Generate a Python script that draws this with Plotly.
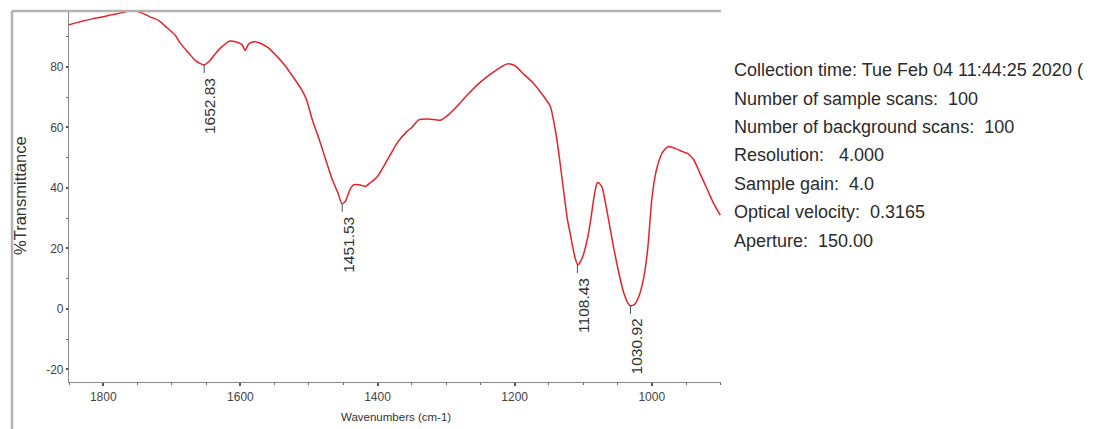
import plotly.graph_objects as go

# ---- data ----
wavenumber = [1850, 1840, 1830, 1820, 1810, 1800, 1790, 1780, 1766, 1755, 1745, 1732, 1720, 1707,
              1695, 1688, 1675, 1665, 1653, 1645, 1638, 1628, 1615, 1605, 1598, 1593, 1588, 1582,
              1575, 1560, 1547, 1535, 1524, 1512, 1504, 1495, 1485, 1475, 1466, 1458, 1452, 1447,
              1440, 1435, 1425, 1418, 1410, 1400, 1385, 1371, 1357, 1350, 1340, 1325, 1308, 1295,
              1284, 1268, 1250, 1230, 1211, 1200, 1187, 1172, 1158, 1148, 1143, 1138, 1133, 1128,
              1123, 1119, 1113, 1108, 1102, 1094, 1088, 1085, 1080, 1078, 1073, 1070, 1065, 1057,
              1050, 1041, 1035, 1031, 1025, 1019, 1012, 1006, 1000, 995, 992, 985, 976, 965, 955,
              948, 939, 930, 919, 910, 900]
transmittance = [94.0, 94.6, 95.2, 95.7, 96.2, 96.6, 97.2, 97.6, 98.4, 98.6, 98.0, 96.6, 95.5, 93.0,
                 90.5, 88.0, 84.5, 82.0, 80.7, 82.0, 84.0, 86.5, 88.6, 88.2, 87.5, 85.5, 87.6, 88.3,
                 88.2, 86.5, 83.6, 80.5, 77.0, 73.0, 69.4, 62.5, 56.0, 49.0, 42.8, 38.5, 34.8, 35.5,
                 39.5, 41.0, 41.0, 40.5, 41.8, 43.8, 49.5, 55.0, 58.7, 60.0, 62.5, 62.8, 62.4, 64.5,
                 67.0, 71.0, 75.0, 78.5, 81.0, 80.5, 77.7, 74.5, 70.4, 67.0, 62.0, 55.5, 47.0, 38.0,
                 29.5, 25.0, 18.0, 14.5, 16.5, 23.0, 31.0, 36.0, 41.5, 41.8, 40.5, 38.0, 32.0, 22.0,
                 14.0, 5.4, 2.0, 1.0, 1.5, 4.0, 10.0, 19.6, 36.0, 44.0, 47.0, 51.5, 53.7, 53.0, 52.0,
                 51.4, 49.4, 45.0, 39.5, 35.0, 31.0]

peak_wn = [1652.83, 1451.53, 1108.43, 1030.92]
peak_t = [80.7, 34.8, 14.5, 1.0]
peak_labels = ["1652.83", "1451.53", "1108.43", "1030.92"]

x_ticks = [1800, 1600, 1400, 1200, 1000]
y_ticks = [80, 60, 40, 20, 0, -20]

info_lines = [
    "Collection time: Tue Feb 04 11:44:25 2020 (",
    "Number of sample scans:  100",
    "Number of background scans:  100",
    "Resolution:   4.000",
    "Sample gain:  4.0",
    "Optical velocity:  0.3165",
    "Aperture:  150.00",
]

# the page body adds an 8 px margin; the figure is sized to fit inside the window
OFF = 8
W, H = 1101 - OFF, 429 - OFF
FONT = "Liberation Sans, Arial, sans-serif"

def px(xp):
    return (xp - OFF) / W

def py(yp):
    return (H - (yp - OFF)) / H

fig = go.Figure()
fig.add_trace(go.Scatter(
    x=wavenumber, y=transmittance, mode="lines",
    line=dict(color="#e3232b", width=1.5, shape="spline", smoothing=0.6),
    hoverinfo="skip", showlegend=False,
))

shapes = []
annotations = []
for wn, t, lab in zip(peak_wn, peak_t, peak_labels):
    shapes.append(dict(type="line", xref="x", yref="y", x0=wn, x1=wn, y0=t, y1=t - 2.7,
                       line=dict(color="#3f5a5a", width=1)))
    annotations.append(dict(x=wn, y=t, xref="x", yref="y", text=lab, showarrow=False,
                            textangle=-90, xanchor="center", yanchor="top",
                            xshift=6, yshift=-11,
                            font=dict(family=FONT, size=15.5, color="#333333")))

# frame lines
shapes.append(dict(type="line", xref="paper", yref="paper", x0=px(12), x1=px(721), y0=py(11), y1=py(11),
                   line=dict(color="#b3b3b3", width=2.5)))
shapes.append(dict(type="line", xref="paper", yref="paper", x0=px(12), x1=px(12), y0=py(11), y1=py(429),
                   line=dict(color="#b3b3b3", width=2.5)))

annotations.append(dict(x=px(396), y=py(417), xref="paper", yref="paper", text="Wavenumbers (cm-1)",
                        showarrow=False, xanchor="center", yanchor="middle",
                        font=dict(family=FONT, size=11.5, color="#333333")))
annotations.append(dict(x=px(20), y=py(196), xref="paper", yref="paper", text="%Transmittance",
                        showarrow=False, textangle=-90, xanchor="center", yanchor="middle",
                        font=dict(family=FONT, size=16.5, color="#333333")))

for i, line in enumerate(info_lines):
    annotations.append(dict(x=px(732), y=py(70 + 28.5 * i), xref="paper", yref="paper", text=line,
                            showarrow=False, xanchor="left", yanchor="middle",
                            font=dict(family=FONT, size=18, color="#2b2b2b")))

fig.update_layout(
    width=W, height=H,
    margin=dict(l=0, r=0, t=0, b=0),
    paper_bgcolor="white", plot_bgcolor="white",
    shapes=shapes, annotations=annotations,
    xaxis=dict(domain=[px(69), px(721)], range=[1850, 899], autorange=False,
               tickvals=x_ticks, ticktext=[str(v) for v in x_ticks],
               showgrid=False, zeroline=False, showline=True, linecolor="#8a8a8a", linewidth=1.2,
               ticks="outside", ticklen=3, tickcolor="#555", tickwidth=1.5,
               minor=dict(dtick=50, ticks="outside", ticklen=2, tickcolor="#666", tickwidth=1.2),
               tickfont=dict(family=FONT, size=12, color="#444444")),
    yaxis=dict(domain=[py(382), py(12)], range=[-24.2, 98.2], autorange=False,
               tickvals=y_ticks, ticktext=[str(v) for v in y_ticks],
               showgrid=False, zeroline=False, showline=True, linecolor="#8a8a8a", linewidth=1.2,
               ticks="outside", ticklen=2, tickcolor="#555", tickwidth=1.5,
               minor=dict(dtick=10, ticks="outside", ticklen=2, tickcolor="#666", tickwidth=1.2),
               tickfont=dict(family=FONT, size=12, color="#444444")),
)

fig.write_html("out.html")
